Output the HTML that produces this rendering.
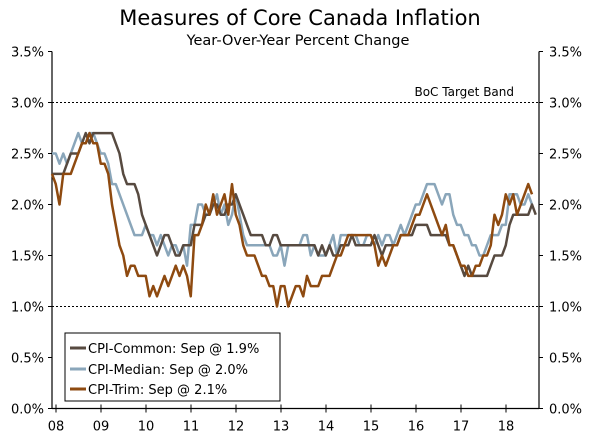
<!DOCTYPE html>
<html><head><meta charset="utf-8"><style>
body{margin:0;background:#fff;}
svg{display:block;font-family:"DejaVu Sans","Liberation Sans",sans-serif;}
</style></head><body>
<svg id="c" width="600" height="444">
<text x="300" y="25" text-anchor="middle" font-size="21" fill="#000">Measures of Core Canada Inflation</text>
<text x="298" y="45" text-anchor="middle" font-size="14.5" fill="#000">Year-Over-Year Percent Change</text>
<g id="axes"></g>
<g id="series"></g>
<text x="514" y="96" text-anchor="end" font-size="12">BoC Target Band</text>
<g>
<rect x="65" y="333" width="215" height="68" fill="#fff" stroke="#000" stroke-width="1"/>
<line x1="70" y1="348" x2="86" y2="348" stroke="#574a40" stroke-width="3"/>
<text x="88" y="353" font-size="13">CPI-Common: Sep @ 1.9%</text>
<line x1="70" y1="369" x2="86" y2="369" stroke="#8aa6ba" stroke-width="3"/>
<text x="88" y="374" font-size="13">CPI-Median: Sep @ 2.0%</text>
<line x1="70" y1="389" x2="86" y2="389" stroke="#8e4a10" stroke-width="3"/>
<text x="88" y="394" font-size="13">CPI-Trim: Sep @ 2.1%</text>
</g>
</svg>
<script>
const yTicks=[0,0.5,1.0,1.5,2.0,2.5,3.0,3.5];
const yearLabels=["08","09","10","11","12","13","14","15","16","17","18"];
const common=[2.3,2.3,2.3,2.3,2.4,2.5,2.5,2.5,2.6,2.7,2.6,2.7,
2.7,2.7,2.7,2.7,2.7,2.6,2.5,2.3,2.2,2.2,2.2,2.1,
1.9,1.8,1.7,1.6,1.5,1.6,1.7,1.7,1.6,1.5,1.5,1.6,
1.6,1.6,1.8,1.8,1.8,1.9,1.9,2.0,2.0,1.9,1.9,2.0,
2.0,2.1,2.0,1.9,1.8,1.7,1.7,1.7,1.7,1.6,1.6,1.7,
1.7,1.6,1.6,1.6,1.6,1.6,1.6,1.6,1.6,1.6,1.6,1.5,
1.6,1.5,1.6,1.5,1.5,1.6,1.6,1.6,1.7,1.6,1.6,1.6,
1.6,1.6,1.7,1.6,1.5,1.6,1.6,1.6,1.6,1.7,1.7,1.7,
1.7,1.8,1.8,1.8,1.8,1.7,1.7,1.7,1.7,1.7,1.6,1.6,
1.5,1.4,1.3,1.4,1.3,1.3,1.3,1.3,1.3,1.4,1.5,1.5,
1.5,1.6,1.8,1.9,1.9,1.9,1.9,1.9,2.0,1.9];
const median=[2.5,2.5,2.4,2.5,2.4,2.5,2.6,2.7,2.6,2.6,2.7,2.7,
2.6,2.5,2.5,2.4,2.2,2.2,2.1,2.0,1.9,1.8,1.7,1.7,
1.7,1.8,1.7,1.7,1.6,1.7,1.6,1.5,1.6,1.6,1.5,1.6,
1.4,1.8,1.8,2.0,2.0,1.9,1.9,2.0,2.1,1.9,2.0,1.8,
1.9,2.1,1.9,1.7,1.6,1.6,1.6,1.6,1.6,1.6,1.6,1.5,
1.5,1.6,1.4,1.6,1.6,1.6,1.6,1.7,1.7,1.5,1.6,1.5,
1.5,1.5,1.6,1.7,1.5,1.7,1.7,1.7,1.7,1.7,1.6,1.6,
1.7,1.7,1.6,1.7,1.6,1.7,1.7,1.6,1.7,1.8,1.7,1.8,
1.9,2.0,2.0,2.1,2.2,2.2,2.2,2.1,2.0,2.1,2.1,1.9,
1.8,1.8,1.7,1.7,1.6,1.6,1.5,1.5,1.6,1.7,1.7,1.7,
1.8,1.8,2.1,2.1,2.1,2.0,2.0,2.1,2.0];
const trim=[2.3,2.2,2.0,2.3,2.3,2.3,2.4,2.5,2.6,2.6,2.7,2.6,
2.6,2.4,2.4,2.3,2.0,1.8,1.6,1.5,1.3,1.4,1.4,1.3,
1.3,1.3,1.1,1.2,1.1,1.2,1.3,1.2,1.3,1.4,1.3,1.4,
1.3,1.1,1.7,1.7,1.8,2.0,1.9,2.1,1.9,2.0,2.1,1.9,
2.2,1.9,1.8,1.6,1.5,1.5,1.5,1.4,1.3,1.3,1.2,1.2,
1.0,1.2,1.2,1.0,1.1,1.2,1.2,1.1,1.3,1.2,1.2,1.2,
1.3,1.3,1.3,1.4,1.5,1.5,1.6,1.7,1.7,1.7,1.7,1.7,
1.7,1.7,1.6,1.4,1.5,1.4,1.5,1.6,1.6,1.7,1.7,1.7,
1.8,1.9,1.9,2.0,2.1,2.0,1.9,1.8,1.7,1.8,1.6,1.6,
1.5,1.4,1.4,1.3,1.3,1.4,1.4,1.5,1.5,1.6,1.9,1.8,
1.9,2.1,2.0,2.1,1.9,2.0,2.1,2.2,2.1];
const NS="http://www.w3.org/2000/svg";
const L=52,R=539,Y0=408.5,PPU=102;
function y(v){return Y0-v*PPU;}
function xm(i){return 52+i*3.75;}
function xYear(k){return 56+k*45;}
function mk(tag,attrs,parent){const e=document.createElementNS(NS,tag);for(const k in attrs)e.setAttribute(k,attrs[k]);parent.appendChild(e);return e;}
const ax=document.getElementById('axes');
yTicks.forEach(v=>{
  if(v===1.0||v===3.0){const g=mk('line',{x1:L,x2:R,y1:y(v),y2:y(v),stroke:'#000','stroke-width':1,'stroke-dasharray':'2,2'},ax);
  
  }
  const t1=mk('line',{x1:L-4,x2:L,y1:y(v),y2:y(v),stroke:'#000'},ax);
  
  
  const t2=mk('line',{x1:R,x2:R+4,y1:y(v),y2:y(v),stroke:'#000'},ax);
  
  
  const a=mk('text',{x:L-8,y:y(v)+5,'text-anchor':'end','font-size':13},ax);a.textContent=v.toFixed(1)+'%';
  
  
  const b=mk('text',{x:R+10,y:y(v)+5,'font-size':13},ax);b.textContent=v.toFixed(1)+'%';
  
  
});
const la=mk('line',{x1:L,x2:L,y1:y(3.5),y2:Y0,stroke:'#000','stroke-width':1.2},ax);


const ra=mk('line',{x1:R,x2:R,y1:y(3.5),y2:Y0,stroke:'#000','stroke-width':1.2},ax);


const xa=mk('line',{x1:L,x2:R,y1:Y0,y2:Y0,stroke:'#000','stroke-width':1.2},ax);


yearLabels.forEach((s,k)=>{
  const t=mk('line',{x1:xYear(k),x2:xYear(k),y1:Y0-4,y2:Y0+4,stroke:'#000'},ax);
  
  
  const l=mk('text',{x:xYear(k),y:Y0+22,'text-anchor':'middle','font-size':13},ax);l.textContent=s;
  
  
});
const sg=document.getElementById('series');
[[median,'#8aa6ba','series-cpi-median'],[common,'#574a40','series-cpi-common'],[trim,'#8e4a10','series-cpi-trim']].forEach(([d,c,n])=>{
  const p=mk('polyline',{points:d.map((v,i)=>xm(i)+','+y(v)).join(' '),fill:'none',stroke:c,'stroke-width':2.5,'stroke-linejoin':'round'},sg);
  
  
});
</script>
</body></html>
